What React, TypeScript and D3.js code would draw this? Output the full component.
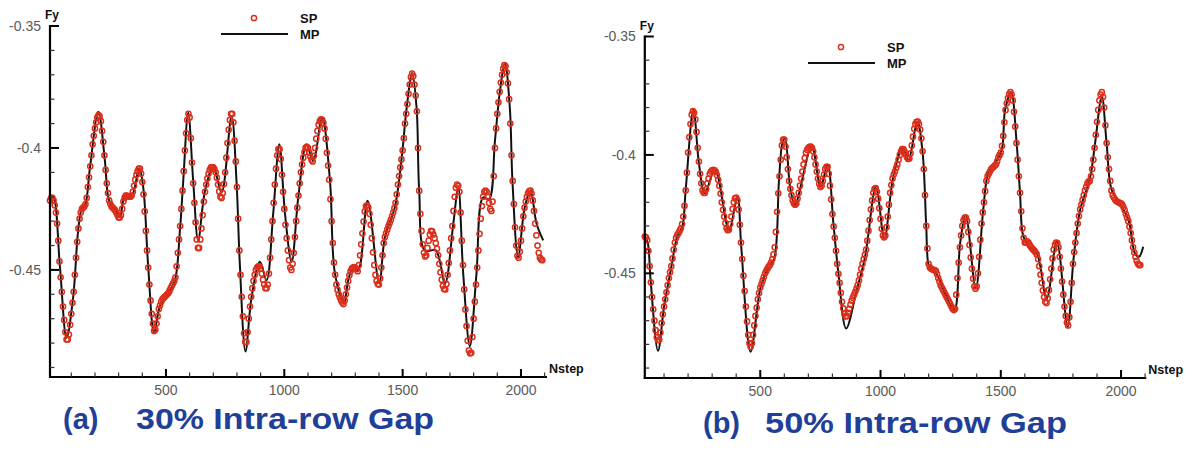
import React from 'react';
import * as d3 from 'd3';

// ---- Panel (a): 30% intra-row gap ----
// SP samples every 5 steps starting at step 10
const spAStart = 10;
const spA = [
  -0.4215, -0.4205, -0.4205, -0.4215, -0.4235, -0.4265, -0.431, -0.438, -0.4465, -0.453,
  -0.459, -0.465, -0.4705, -0.4755, -0.4785, -0.4785, -0.4765, -0.4725, -0.468, -0.4635,
  -0.459, -0.452, -0.445, -0.4385, -0.433, -0.429, -0.4265, -0.425, -0.4245, -0.424,
  -0.423, -0.4205, -0.416, -0.412, -0.4075, -0.403, -0.3985, -0.395, -0.392, -0.3895,
  -0.3875, -0.3865, -0.387, -0.389, -0.393, -0.3975, -0.403, -0.409, -0.4145, -0.4185,
  -0.4215, -0.423, -0.424, -0.4245, -0.425, -0.4255, -0.4265, -0.4275, -0.4285, -0.4285,
  -0.4275, -0.425, -0.422, -0.4205, -0.4195, -0.4195, -0.42, -0.42, -0.42, -0.4195,
  -0.418, -0.4155, -0.413, -0.411, -0.4095, -0.4085, -0.4085, -0.4105, -0.414, -0.419,
  -0.426, -0.434, -0.442, -0.449, -0.456, -0.4625, -0.468, -0.472, -0.475, -0.4745,
  -0.472, -0.469, -0.466, -0.4645, -0.463, -0.462, -0.4615, -0.461, -0.4605, -0.46,
  -0.4595, -0.4585, -0.4575, -0.4565, -0.4555, -0.4545, -0.453, -0.4485, -0.443, -0.4375,
  -0.432, -0.425, -0.4175, -0.4095, -0.401, -0.394, -0.3885, -0.386, -0.3875, -0.396,
  -0.406, -0.4145, -0.4225, -0.4305, -0.4375, -0.441, -0.441, -0.4375, -0.433, -0.4275,
  -0.422, -0.418, -0.415, -0.4125, -0.4105, -0.409, -0.408, -0.4078, -0.408, -0.4088,
  -0.41, -0.4122, -0.415, -0.4178, -0.42, -0.4205, -0.4185, -0.4148, -0.41, -0.404,
  -0.398, -0.3925, -0.3885, -0.386, -0.386, -0.3895, -0.397, -0.4055, -0.416, -0.429,
  -0.442, -0.452, -0.461, -0.469, -0.476, -0.4795, -0.4795, -0.4755, -0.47, -0.465,
  -0.461, -0.4575, -0.4545, -0.452, -0.45, -0.449, -0.4485, -0.4485, -0.4495, -0.4515,
  -0.454, -0.456, -0.4575, -0.4575, -0.456, -0.4515, -0.445, -0.4375, -0.43, -0.4225,
  -0.415, -0.4085, -0.403, -0.4005, -0.4005, -0.4045, -0.411, -0.418, -0.425, -0.4315,
  -0.437, -0.442, -0.446, -0.449, -0.45, -0.4475, -0.443, -0.4365, -0.43, -0.4245,
  -0.4195, -0.4145, -0.41, -0.4068, -0.404, -0.4018, -0.4, -0.3995, -0.4, -0.4018,
  -0.4035, -0.4048, -0.4055, -0.4032, -0.4, -0.3962, -0.393, -0.3905, -0.389, -0.3883,
  -0.3885, -0.3897, -0.392, -0.3962, -0.402, -0.4072, -0.413, -0.421, -0.43, -0.439,
  -0.447, -0.452, -0.456, -0.4582, -0.46, -0.4613, -0.4625, -0.4634, -0.464, -0.4625,
  -0.46, -0.4572, -0.4545, -0.4522, -0.4505, -0.4495, -0.449, -0.4488, -0.449, -0.4497,
  -0.4505, -0.448, -0.444, -0.4395, -0.435, -0.4302, -0.426, -0.4238, -0.4235, -0.4245,
  -0.427, -0.4315, -0.437, -0.4428, -0.448, -0.452, -0.4545, -0.4558, -0.456, -0.4535,
  -0.449, -0.444, -0.439, -0.4365, -0.435, -0.4335, -0.432, -0.4308, -0.4295, -0.428,
  -0.4265, -0.4247, -0.4225, -0.419, -0.415, -0.4115, -0.408, -0.4047, -0.401, -0.396,
  -0.39, -0.386, -0.382, -0.3778, -0.374, -0.371, -0.3695, -0.3705, -0.374, -0.3785,
  -0.385, -0.4, -0.4175, -0.427, -0.434, -0.4395, -0.443, -0.4445, -0.444, -0.441,
  -0.438, -0.4355, -0.434, -0.4342, -0.4355, -0.437, -0.439, -0.4413, -0.444, -0.4475,
  -0.451, -0.454, -0.4565, -0.4578, -0.458, -0.4558, -0.452, -0.4472, -0.442, -0.437,
  -0.432, -0.4258, -0.42, -0.4163, -0.415, -0.4155, -0.418, -0.4265, -0.438, -0.448,
  -0.458, -0.4662, -0.473, -0.479, -0.483, -0.4842, -0.484, -0.4775, -0.47, -0.463,
  -0.456, -0.449, -0.442, -0.4352, -0.429, -0.4238, -0.42, -0.418, -0.4175, -0.418,
  -0.42, -0.4225, -0.425, -0.4258, -0.422, -0.4115, -0.4, -0.392, -0.386, -0.3813,
  -0.377, -0.3732, -0.37, -0.3675, -0.366, -0.3665, -0.369, -0.3735, -0.38, -0.39,
  -0.403, -0.4135, -0.423, -0.4325, -0.44, -0.4442, -0.445, -0.4425, -0.438, -0.433,
  -0.428, -0.4245, -0.422, -0.42, -0.4185, -0.4177, -0.4175, -0.4187, -0.4215, -0.4258,
  -0.431, -0.4358, -0.44, -0.443, -0.445, -0.4457, -0.446,
];

// MP reference line: steps and force values along the trace
const mpAN = [
  10, 24, 52, 80, 108, 129, 144, 158, 179, 214, 242, 256, 270, 284, 305, 327, 355, 387, 404, 425,
  450, 474, 510, 538, 559, 573, 594, 615, 636, 665, 700, 735, 777, 798, 812, 836, 862, 897, 925, 953,
  979, 1003, 1031, 1059, 1094, 1122, 1160, 1193, 1214, 1252, 1270, 1291, 1312, 1352, 1401, 1425, 1467, 1496, 1517, 1540,
  1559, 1570, 1594, 1640, 1679, 1714, 1735, 1756, 1784, 1812, 1840, 1865, 1890, 1911, 1932, 1953, 1964, 1988, 2016, 2040,
  2066, 2094,
];
const mpAF = [
  -0.4213, -0.42, -0.4488, -0.4779, -0.461, -0.4338, -0.425, -0.4236, -0.408, -0.3852, -0.4053, -0.4203, -0.4236, -0.425, -0.4284, -0.4196, -0.4196, -0.4083, -0.4162, -0.4488,
  -0.4759, -0.465, -0.4596, -0.4542, -0.4338, -0.4135, -0.3856, -0.4135, -0.4379, -0.4175, -0.4078, -0.4182, -0.387, -0.4135, -0.4474, -0.4834, -0.461, -0.4467, -0.4542, -0.427,
  -0.3985, -0.427, -0.4467, -0.4203, -0.3985, -0.4053, -0.3877, -0.4135, -0.4515, -0.4637, -0.4542, -0.4488, -0.4502, -0.4216, -0.4555, -0.4366, -0.4243, -0.404, -0.3836, -0.3693,
  -0.3836, -0.4175, -0.442, -0.442, -0.4555, -0.4311, -0.4162, -0.4515, -0.4813, -0.4515, -0.4203, -0.421, -0.3972, -0.3768, -0.3653, -0.3836, -0.4135, -0.4447, -0.4243, -0.4175,
  -0.4311, -0.4379,
];

// ---- Panel (b): 50% intra-row gap ----
const spBStart = 20;
const spB = [
  -0.4345, -0.4348, -0.436, -0.4405, -0.447, -0.4538, -0.46, -0.4652, -0.47, -0.474,
  -0.477, -0.4782, -0.478, -0.475, -0.471, -0.4673, -0.464, -0.461, -0.458, -0.455,
  -0.452, -0.4495, -0.447, -0.4437, -0.44, -0.437, -0.435, -0.4338, -0.433, -0.432,
  -0.431, -0.4292, -0.426, -0.4215, -0.415, -0.4075, -0.399, -0.3925, -0.387, -0.383,
  -0.3815, -0.3822, -0.385, -0.3903, -0.397, -0.4028, -0.408, -0.412, -0.415, -0.416,
  -0.416, -0.4145, -0.412, -0.41, -0.408, -0.407, -0.4065, -0.4063, -0.4065, -0.4072,
  -0.4085, -0.4105, -0.413, -0.4163, -0.42, -0.4232, -0.426, -0.4288, -0.431, -0.4318,
  -0.4315, -0.4292, -0.426, -0.4228, -0.42, -0.4183, -0.418, -0.4192, -0.423, -0.4295,
  -0.437, -0.444, -0.451, -0.4575, -0.464, -0.4703, -0.476, -0.4795, -0.481, -0.4795,
  -0.476, -0.472, -0.468, -0.4645, -0.461, -0.4583, -0.456, -0.4545, -0.453, -0.4515,
  -0.45, -0.449, -0.448, -0.4472, -0.4465, -0.4455, -0.444, -0.442, -0.439, -0.4325,
  -0.424, -0.4162, -0.409, -0.402, -0.396, -0.3935, -0.3935, -0.3965, -0.401, -0.406,
  -0.411, -0.4143, -0.417, -0.4192, -0.4205, -0.421, -0.4205, -0.4185, -0.416, -0.413,
  -0.41, -0.407, -0.404, -0.4013, -0.399, -0.3978, -0.397, -0.3966, -0.3965, -0.397,
  -0.3985, -0.401, -0.404, -0.407, -0.41, -0.4122, -0.4135, -0.413, -0.411, -0.4083,
  -0.406, -0.405, -0.405, -0.408, -0.413, -0.4188, -0.425, -0.4302, -0.435, -0.4405,
  -0.446, -0.4502, -0.454, -0.4582, -0.462, -0.4648, -0.467, -0.4682, -0.468, -0.4667,
  -0.465, -0.4632, -0.4615, -0.4603, -0.459, -0.4578, -0.4565, -0.455, -0.453, -0.4505,
  -0.448, -0.446, -0.444, -0.4422, -0.44, -0.4362, -0.432, -0.4275, -0.423, -0.4192,
  -0.416, -0.4143, -0.414, -0.4155, -0.4185, -0.4225, -0.427, -0.4312, -0.434, -0.4348,
  -0.434, -0.4305, -0.426, -0.421, -0.416, -0.4127, -0.41, -0.4083, -0.407, -0.4055,
  -0.404, -0.402, -0.4, -0.3985, -0.3975, -0.3975, -0.3985, -0.3998, -0.401, -0.4017,
  -0.4015, -0.3993, -0.396, -0.3923, -0.389, -0.3869, -0.386, -0.3859, -0.387, -0.3893,
  -0.393, -0.3985, -0.406, -0.417, -0.43, -0.4395, -0.446, -0.4475, -0.448, -0.4483,
  -0.4485, -0.4487, -0.449, -0.4503, -0.452, -0.4535, -0.455, -0.456, -0.457, -0.458,
  -0.459, -0.46, -0.461, -0.462, -0.463, -0.464, -0.465, -0.4655, -0.465, -0.459,
  -0.452, -0.4455, -0.439, -0.434, -0.43, -0.4275, -0.4265, -0.4265, -0.428, -0.4325,
  -0.438, -0.4433, -0.448, -0.4522, -0.4555, -0.4565, -0.4555, -0.45, -0.443, -0.4358,
  -0.429, -0.4243, -0.42, -0.4153, -0.411, -0.409, -0.408, -0.407, -0.406, -0.4055,
  -0.405, -0.4045, -0.404, -0.4027, -0.401, -0.4, -0.399, -0.3962, -0.392, -0.3862,
  -0.381, -0.3782, -0.376, -0.3743, -0.3735, -0.3745, -0.377, -0.3818, -0.388, -0.395,
  -0.402, -0.409, -0.416, -0.4238, -0.431, -0.435, -0.437, -0.437, -0.4365, -0.437,
  -0.438, -0.4388, -0.4395, -0.44, -0.4405, -0.4412, -0.442, -0.444, -0.447, -0.4505,
  -0.454, -0.4572, -0.46, -0.462, -0.4625, -0.4605, -0.457, -0.4525, -0.448, -0.4437,
  -0.44, -0.438, -0.437, -0.4372, -0.439, -0.443, -0.448, -0.4535, -0.459, -0.464,
  -0.468, -0.4708, -0.472, -0.4685, -0.462, -0.454, -0.446, -0.441, -0.437, -0.433,
  -0.429, -0.4258, -0.423, -0.421, -0.419, -0.417, -0.415, -0.4135, -0.412, -0.4113,
  -0.411, -0.409, -0.406, -0.402, -0.397, -0.3915, -0.386, -0.381, -0.377, -0.3745,
  -0.3735, -0.3755, -0.38, -0.3875, -0.395, -0.401, -0.406, -0.411, -0.415, -0.417,
  -0.418, -0.4188, -0.4195, -0.4198, -0.42, -0.4203, -0.4205, -0.421, -0.422, -0.4233,
  -0.425, -0.4265, -0.428, -0.4303, -0.433, -0.436, -0.439, -0.4412, -0.443, -0.4447,
  -0.446, -0.4465, -0.4465,
];

const mpBN = [
  20, 32, 44, 75, 100, 128, 155, 176, 190, 222, 245, 269, 312, 370, 405, 421, 460, 502, 536, 557,
  578, 592, 603, 624, 644, 714, 751, 780, 804, 825, 857, 901, 936, 981, 1016, 1053, 1092, 1116, 1153, 1175,
  1190, 1200, 1215, 1234, 1268, 1307, 1331, 1354, 1396, 1427, 1448, 1476, 1504, 1518, 1543, 1566, 1580, 1594, 1620, 1650,
  1691, 1733, 1778, 1802, 1830, 1871, 1892, 1920, 1940, 1961, 1996, 2031, 2058, 2075, 2092,
];
const mpBF = [
  -0.4345, -0.437, -0.4528, -0.4827, -0.4641, -0.4486, -0.4345, -0.4303, -0.4148, -0.3807, -0.4035, -0.4162, -0.4063, -0.4317, -0.4176, -0.4388, -0.4831, -0.4557, -0.4472, -0.4444,
  -0.4106, -0.3951, -0.393, -0.4134, -0.4211, -0.3965, -0.4134, -0.4042, -0.4289, -0.45, -0.4733, -0.4571, -0.443, -0.4134, -0.4352, -0.4092, -0.3972, -0.4021, -0.3859, -0.399,
  -0.43, -0.4465, -0.449, -0.4505, -0.4584, -0.4655, -0.4373, -0.4254, -0.4563, -0.4232, -0.4077, -0.4035, -0.3979, -0.381, -0.3735, -0.3951, -0.4162, -0.4345, -0.439, -0.4416,
  -0.4606, -0.4366, -0.4726, -0.4444, -0.4232, -0.4098, -0.3951, -0.3753, -0.3951, -0.4148, -0.4205, -0.4275, -0.4416, -0.443, -0.4388,
];

const yMajor = [-0.35, -0.4, -0.45];
const xMajor = [500, 1000, 1500, 2000];
const legendNames = ['SP', 'MP'];

const SP_COLOR = '#dc2f1b';
const LINE_COLOR = '#111111';
const LABEL_COLOR = '#5a5a5a';
const CAPTION_COLOR = '#1f3f99';
const FONT = 'Arial, "Liberation Sans", Helvetica, sans-serif';

type PanelProps = {
  spStart: number;
  sp: number[];
  mpN: number[];
  mpF: number[];
  xDomain: [number, number];
  xRange: [number, number];
  yDomain: [number, number];
  yRange: [number, number];
  legendX: number;
  legendY: number;
  tag: string;
  caption: string;
  tagX: number;
  captionX: number;
  captionY: number;
  captionWidth: number;
};

// plain hyphen-minus tick text, e.g. "-0.35"
const fmtY = (v: number) => String(v);

function Panel(p: PanelProps) {
  const x = d3.scaleLinear().domain(p.xDomain).range(p.xRange);
  const y = d3.scaleLinear().domain(p.yDomain).range(p.yRange);

  const spPoints = p.sp.map((v, i) => [p.spStart + i * 5, v] as [number, number]);
  const mpPoints = p.mpN.map((n, i) => [n, p.mpF[i]] as [number, number]);

  const line = d3
    .line<[number, number]>()
    .x((d) => x(d[0]))
    .y((d) => y(d[1]))
    .curve(d3.curveCatmullRom.alpha(0.5));

  const yMinor = d3.range(-0.49, -0.3499, 0.01).filter(
    (v) => !yMajor.some((m) => Math.abs(m - v) < 1e-6)
  );
  const xMinor = d3.range(100, p.xDomain[1], 100).filter((v) => v % 500 !== 0);

  const [x0, x1] = p.xRange;
  const [yb, yt] = p.yRange;

  return (
    <g>
      {/* traces */}
      <path d={line(mpPoints) || ''} fill="none" stroke={LINE_COLOR} strokeWidth={2} />
      {spPoints.map((d, i) => (
        <circle
          key={i}
          cx={x(d[0])}
          cy={y(d[1])}
          r={2.6}
          fill="none"
          stroke={SP_COLOR}
          strokeWidth={1.5}
        />
      ))}

      {/* axes */}
      <line x1={x0} x2={x0} y1={yt - 1} y2={yb + 1} stroke="#000" strokeWidth={2.2} />
      <line x1={x0 - 1} x2={x1} y1={yb} y2={yb} stroke="#000" strokeWidth={2} />
      {yMajor.map((v) => (
        <g key={'ym' + v}>
          <line x1={x0} x2={x0 + 9} y1={y(v)} y2={y(v)} stroke="#000" strokeWidth={2} />
          <text
            x={x0 - 9}
            y={y(v)}
            dy="0.35em"
            textAnchor="end"
            fontFamily={FONT}
            fontSize={14}
            fill={LABEL_COLOR}
          >
            {fmtY(v)}
          </text>
        </g>
      ))}
      {yMinor.map((v) => (
        <line key={'yn' + v} x1={x0} x2={x0 + 4.5} y1={y(v)} y2={y(v)} stroke="#333" strokeWidth={1.2} />
      ))}
      {xMajor.map((v) => (
        <g key={'xm' + v}>
          <line x1={x(v)} x2={x(v)} y1={yb} y2={yb - 8} stroke="#000" strokeWidth={2} />
          <text
            x={x(v)}
            y={yb + 18}
            textAnchor="middle"
            fontFamily={FONT}
            fontSize={14}
            fill={LABEL_COLOR}
          >
            {v}
          </text>
        </g>
      ))}
      {xMinor.map((v) => (
        <line key={'xn' + v} x1={x(v)} x2={x(v)} y1={yb} y2={yb - 4.5} stroke="#333" strokeWidth={1.2} />
      ))}

      {/* axis titles */}
      <text x={x0 - 5} y={yt - 7} fontFamily={FONT} fontSize={12} fontWeight="bold" fill="#111">
        Fy
      </text>
      <text x={x1 + 2} y={yb - 4} fontFamily={FONT} fontSize={12.5} fontWeight="bold" fill="#111">
        Nstep
      </text>

      {/* legend */}
      <circle cx={p.legendX + 33} cy={p.legendY} r={2.6} fill="none" stroke={SP_COLOR} strokeWidth={1.5} />
      <line
        x1={p.legendX}
        x2={p.legendX + 67}
        y1={p.legendY + 16}
        y2={p.legendY + 16}
        stroke={LINE_COLOR}
        strokeWidth={2}
      />
      {legendNames.map((name, i) => (
        <text
          key={name}
          x={p.legendX + 79}
          y={p.legendY + 16 * i}
          dy="0.36em"
          fontFamily={FONT}
          fontSize={13}
          fontWeight="bold"
          fill="#111"
        >
          {name}
        </text>
      ))}

      {/* caption */}
      <text
        x={p.tagX}
        y={p.captionY}
        fontFamily={FONT}
        fontSize={29}
        fontWeight="bold"
        fill={CAPTION_COLOR}
      >
        {p.tag}
      </text>
      <text
        x={p.captionX}
        y={p.captionY}
        fontFamily={FONT}
        fontSize={29}
        fontWeight="bold"
        fill={CAPTION_COLOR}
        textLength={p.captionWidth}
        lengthAdjust="spacingAndGlyphs"
      >
        {p.caption}
      </text>
    </g>
  );
}

export default function App() {
  return (
    <svg
      width={1200}
      height={450}
      viewBox="0 0 1200 450"
      style={{ position: 'absolute', left: 0, top: 0, display: 'block', background: '#fff' }}
    >
      <rect width={1200} height={450} fill="#fff" />
      <Panel
        spStart={spAStart}
        sp={spA}
        mpN={mpAN}
        mpF={mpAF}
        xDomain={[10, 2110]}
        xRange={[50, 547]}
        yDomain={[-0.4939, -0.35]}
        yRange={[377, 26]}
        legendX={221}
        legendY={18}
        tag="(a)"
        caption="30% Intra-row Gap"
        tagX={63}
        captionX={136}
        captionY={429}
        captionWidth={298}
      />
      <Panel
        spStart={spBStart}
        sp={spB}
        mpN={mpBN}
        mpF={mpBF}
        xDomain={[20, 2105]}
        xRange={[644.8, 1146.3]}
        yDomain={[-0.4942, -0.35]}
        yRange={[378, 36.5]}
        legendX={808}
        legendY={47}
        tag="(b)"
        caption="50% Intra-row Gap"
        tagX={703}
        captionX={765}
        captionY={433}
        captionWidth={302}
      />
    </svg>
  );
}
